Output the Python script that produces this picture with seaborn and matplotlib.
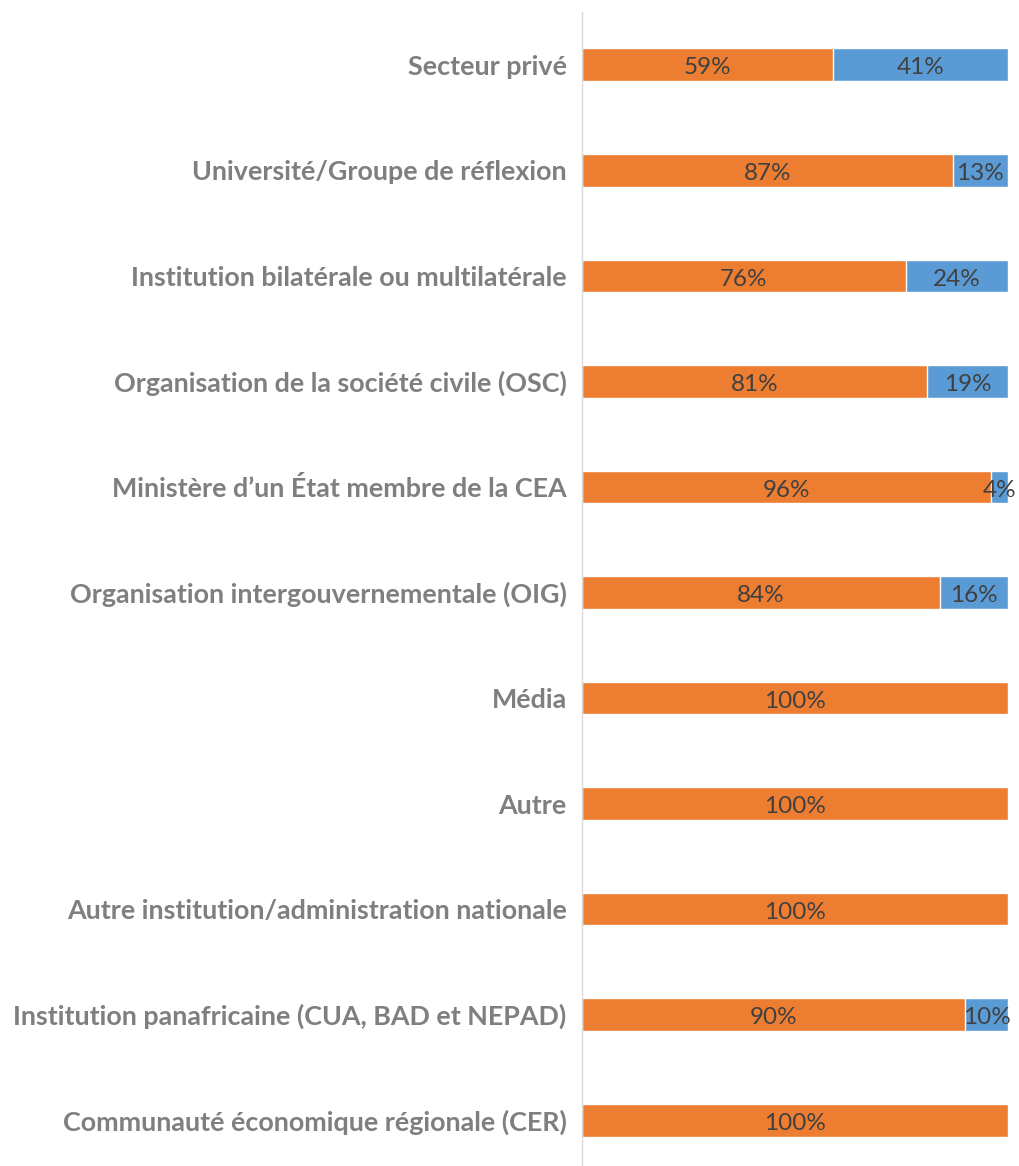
import pandas as pd
import matplotlib.pyplot as plt
import seaborn as sns

categories = [
    "Secteur privé",
    "Université/Groupe de réflexion",
    "Institution bilatérale ou multilatérale",
    "Organisation de la société civile (OSC)",
    "Ministère d’un État membre de la CEA",
    "Organisation intergouvernementale (OIG)",
    "Média",
    "Autre",
    "Autre institution/administration nationale",
    "Institution panafricaine (CUA, BAD et NEPAD)",
    "Communauté économique régionale (CER)",
]
orange_vals = [59, 87, 76, 81, 96, 84, 100, 100, 100, 90, 100]
blue_vals = [41, 13, 24, 19, 4, 16, 0, 0, 0, 10, 0]

df = pd.DataFrame({"cat": categories, "orange": orange_vals, "blue": blue_vals})
df["total"] = df["orange"] + df["blue"]

sns.set_style("white")
plt.rcParams["font.family"] = ["Lato", "DejaVu Sans"]

fig = plt.figure(figsize=(10.19, 11.66), dpi=100)
# axe : x 582..1008 px, y 12..1172 px (dépasse un peu en bas)
ax = fig.add_axes([582 / 1019, -7 / 1166, (1008 - 582) / 1019, 1161 / 1166])

# barre totale (bleu) puis partie orange par-dessus
sns.barplot(data=df, x="total", y="cat", orient="h", color="#5B9BD5", width=0.31,
            saturation=1, ax=ax)
sns.barplot(data=df, x="orange", y="cat", orient="h", color="#ED7D31", width=0.31,
            saturation=1, ax=ax)

for i, (o, b) in enumerate(zip(orange_vals, blue_vals)):
    ax.text(o / 2, i + 0.03, f"{o}%", ha="center", va="center", fontsize=17.5, color="#404040")
    if b > 0:
        ax.text(o + b / 2, i + 0.03, f"{b}%", ha="center", va="center", fontsize=17.5, color="#404040")

ax.set_xlim(0, 100)
ax.set_ylim(10.5, -0.5)
ax.set_xlabel("")
ax.set_ylabel("")
ax.set_xticks([])
ax.tick_params(axis="y", length=0, pad=11)
for lab in ax.get_yticklabels():
    lab.set_fontweight("bold")
    lab.set_color("#7F7F7F")
    lab.set_fontsize(19.4)

for s in ["top", "right", "bottom"]:
    ax.spines[s].set_visible(False)
ax.spines["left"].set_color("#D9D9D9")
ax.spines["left"].set_linewidth(1)

plt.savefig("out.png", dpi=100)
